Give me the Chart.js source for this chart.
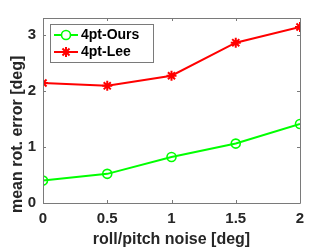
<!DOCTYPE html>
<html>
<head>
<meta charset="utf-8">
<script src="https://cdn.jsdelivr.net/npm/chart.js@4/dist/chart.umd.min.js"></script>
<style>
html,body{margin:0;padding:0;background:#fff;}
#wrap{width:332px;height:249px;position:relative;}
</style>
</head>
<body>
<div id="wrap"><canvas id="c" width="332" height="249"></canvas></div>
<script>
const noise = [0, 0.5, 1, 1.5, 2];
const oursErr = [0.40, 0.52, 0.82, 1.06, 1.41];
const leeErr = [2.14, 2.09, 2.27, 2.86, 3.14];
const seriesNames = ['4pt-Ours', '4pt-Lee'];
const xTickValues = [0, 0.5, 1, 1.5, 2];
const yTickValues = [0, 1, 2, 3];
const xTitle = 'roll/pitch noise [deg]';
const yTitle = 'mean rot. error [deg]';

const FONT = "'Liberation Sans', Arial, Helvetica, sans-serif";
const AXIS_GRAY = '#7a7a7a';

const boxPlugin = {
  id: 'boxPlugin',
  afterLayout(chart) {
    // shift the y-axis title start slightly below the axis bottom, as in the reference
    chart.scales.y.bottom += 10;
  },
  afterDatasetsDraw(chart) {
    const {ctx, chartArea: a, scales: {x, y}} = chart;
    ctx.save();
    ctx.strokeStyle = AXIS_GRAY;
    ctx.lineWidth = 1;
    ctx.beginPath();
    ctx.rect(Math.round(a.left) + 0.5, Math.round(a.top) + 0.5,
             Math.round(a.right - a.left), Math.round(a.bottom - a.top));
    ctx.stroke();
    const tl = 3;
    ctx.beginPath();
    x.ticks.forEach(t => {
      const px = Math.round(x.getPixelForValue(t.value)) + 0.5;
      ctx.moveTo(px, a.bottom); ctx.lineTo(px, a.bottom - tl);
      ctx.moveTo(px, a.top); ctx.lineTo(px, a.top + tl);
    });
    y.ticks.forEach(t => {
      const py = Math.round(y.getPixelForValue(t.value)) + 0.5;
      ctx.moveTo(a.left, py); ctx.lineTo(a.left + tl, py);
      ctx.moveTo(a.right, py); ctx.lineTo(a.right - tl, py);
    });
    ctx.stroke();
    ctx.restore();
  }
};

const legendPlugin = {
  id: 'legendPlugin',
  afterDraw(chart) {
    const c = chart.ctx;
    c.save();
    const bx = 50.5, by = 24.5, bw = 103, bh = 38;
    c.fillStyle = '#fff';
    c.fillRect(bx, by, bw, bh);
    c.strokeStyle = AXIS_GRAY;
    c.lineWidth = 1;
    c.strokeRect(bx, by, bw, bh);
    const rows = [35, 52];
    chart.data.datasets.forEach((ds, i) => {
      const yy = rows[i];
      c.strokeStyle = ds.borderColor;
      c.lineWidth = ds.borderWidth;
      c.beginPath();
      c.moveTo(54, yy); c.lineTo(78, yy);
      c.stroke();
      c.strokeStyle = ds.pointBorderColor;
      c.fillStyle = '#fff';
      c.lineWidth = ds.pointBorderWidth;
      Chart.helpers.drawPoint(c, {
        pointStyle: ds.pointStyle, radius: ds.pointRadius, borderWidth: ds.pointBorderWidth
      }, 66, yy);
      c.fillStyle = '#000';
      c.font = "bold 14px " + FONT;
      c.textBaseline = 'middle';
      c.textAlign = 'left';
      c.fillText(ds.label, 81, yy + 0.5);
    });
    c.restore();
  }
};

new Chart(document.getElementById('c'), {
  type: 'line',
  data: {
    datasets: [
      {
        label: seriesNames[0],
        data: noise.map((v, i) => ({x: v, y: oursErr[i]})),
        borderColor: '#00ff00',
        backgroundColor: 'rgba(0,0,0,0)',
        pointBackgroundColor: 'rgba(0,0,0,0)',
        pointBorderColor: '#00ff00',
        borderWidth: 2,
        pointStyle: 'circle',
        pointRadius: 4.5,
        pointBorderWidth: 1.6,
        tension: 0
      },
      {
        label: seriesNames[1],
        data: noise.map((v, i) => ({x: v, y: leeErr[i]})),
        borderColor: '#ff0000',
        backgroundColor: 'rgba(0,0,0,0)',
        pointBackgroundColor: '#ff0000',
        pointBorderColor: '#ff0000',
        borderWidth: 2,
        pointStyle: 'star',
        pointRadius: 5,
        pointBorderWidth: 2,
        tension: 0
      }
    ]
  },
  options: {
    responsive: false,
    animation: false,
    devicePixelRatio: 1,
    layout: {padding: {left: 0, right: 32, top: 18, bottom: 0}},
    plugins: {legend: {display: false}, tooltip: {enabled: false}},
    scales: {
      x: {
        type: 'linear',
        min: 0, max: 2,
        afterBuildTicks: s => { s.ticks = xTickValues.map(v => ({value: v})); },
        afterFit: s => { s.height = 46; },
        grid: {display: false, drawTicks: false},
        border: {display: false},
        ticks: {
          padding: 7,
          color: '#262626',
          font: {family: FONT, size: 15, weight: 'bold'},
          callback: v => String(v),
          maxRotation: 0
        },
        title: {
          display: true, text: xTitle, color: '#262626',
          font: {family: FONT, size: 16, weight: 'bold'},
          padding: {top: 0, bottom: 0}
        }
      },
      y: {
        min: 0, max: 3.3,
        afterBuildTicks: s => { s.ticks = yTickValues.map(v => ({value: v})); },
        afterFit: s => { s.width = 43; },
        grid: {display: false, drawTicks: false},
        border: {display: false},
        ticks: {
          padding: 7,
          color: '#262626',
          font: {family: FONT, size: 15, weight: 'bold'},
          callback: v => String(v)
        },
        title: {
          display: true, text: yTitle, color: '#262626', align: 'start',
          font: {family: FONT, size: 16, weight: 'bold'},
          padding: {top: 8, bottom: 0}
        }
      }
    }
  },
  plugins: [boxPlugin, legendPlugin]
});
</script>
</body>
</html>
